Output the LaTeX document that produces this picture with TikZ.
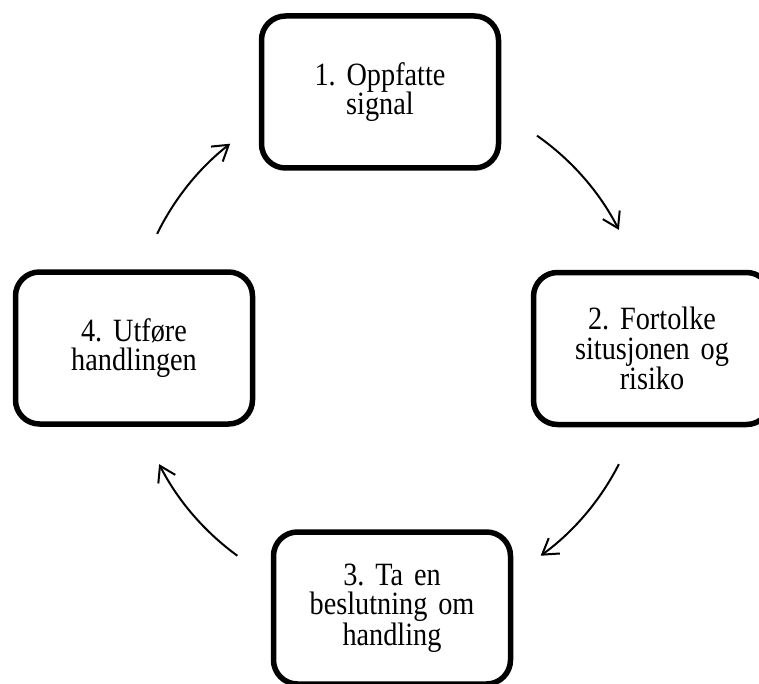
\documentclass[tikz,border=0pt]{standalone}
\usepackage{fontspec}
\setmainfont{Liberation Serif}[FakeStretch=0.87]
\usetikzlibrary{arrows.meta}
\frenchspacing
\begin{document}
\begin{tikzpicture}[x=1pt,y=-1pt,
  stagebox/.style={draw=black, line width=5.5pt, rounded corners=24pt,
    minimum width=237pt, minimum height=152pt, inner sep=0pt,
    align=center, text width=220pt,
    font=\fontsize{32.5}{29.5}\selectfont},
  cyclearrow/.style={line width=2pt, -{Straight Barb[length=15pt,width=19pt]}}]
  \useasboundingbox (0,0) rectangle (759,684);
  \begin{scope}
    \clip (0,0) rectangle (759,684);
    % the four stages of the cycle
    \node[stagebox] (s1) at (380,92) {1. Oppfatte\\signal};
    \node[stagebox] (s2) at (652,348.5) {2. Fortolke\\situsjonen og\\risiko};
    \node[stagebox] (s3) at (392,608) {3. Ta en\\beslutning om\\handling};
    \node[stagebox] (s4) at (134,348) {4. Utføre\\handlingen};
  \end{scope}
  % curved arrows on a common circle around the centre
  \coordinate (c) at (389,347);
  \path (c) ++(55:258 and -258) coordinate (a1)
        (c) ++(-27:258 and -258) coordinate (a2)
        (c) ++(-126:258 and -258) coordinate (a3)
        (c) ++(154:258 and -258) coordinate (a4);
  \draw[cyclearrow] (a1) arc[start angle=55, end angle=27, x radius=258, y radius=-258];
  \draw[cyclearrow] (a2) arc[start angle=-27, end angle=-54, x radius=258, y radius=-258];
  \draw[cyclearrow] (a3) arc[start angle=-126, end angle=-153, x radius=258, y radius=-258];
  \draw[cyclearrow] (a4) arc[start angle=154, end angle=128, x radius=258, y radius=-258];
\end{tikzpicture}
\end{document}
